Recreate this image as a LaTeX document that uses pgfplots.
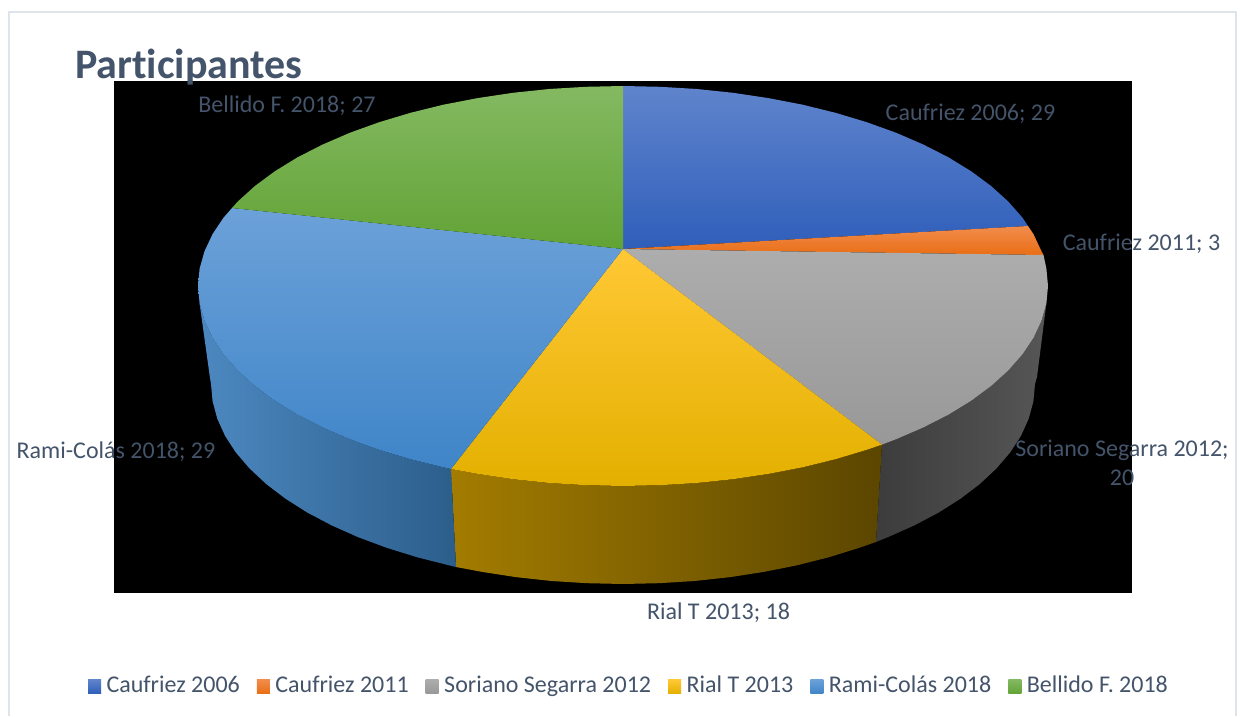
\documentclass[border=0pt]{standalone}
\usepackage{fontspec}
\usepackage{pgfplots}
\pgfplotsset{compat=1.18}
\setmainfont{Carlito}[Ligatures=NoCommon]

\definecolor{inkslate}{HTML}{44546A}
\definecolor{framegray}{HTML}{DFE4EA}

% One shared style per slice: top faces keep a soft vertical gradient
\pgfplotsset{
  face/.style n args={3}{draw=none,fill=none,shade,top color=#1,middle color=#2,bottom color=#3},
  wall/.style n args={3}{draw=none,fill=none,shade,left color=#1,middle color=#2,right color=#3},
}
\definecolor{bluetopA}{HTML}{5F84CC}\definecolor{bluetopB}{HTML}{3A67C0}\definecolor{bluetopC}{HTML}{2F5EBA}
\definecolor{orangeA}{HTML}{F28C4C}\definecolor{orangeB}{HTML}{F07D2E}\definecolor{orangeC}{HTML}{E96E15}
\definecolor{grayA}{HTML}{ADADAD}\definecolor{grayB}{HTML}{A3A3A3}\definecolor{grayC}{HTML}{989898}
\definecolor{yellowA}{HTML}{FFC835}\definecolor{yellowB}{HTML}{FAC300}\definecolor{yellowC}{HTML}{E3B000}
\definecolor{skyA}{HTML}{6CA1D9}\definecolor{skyB}{HTML}{5395D6}\definecolor{skyC}{HTML}{3F85C8}
\definecolor{greenA}{HTML}{84B962}\definecolor{greenB}{HTML}{6BAA40}\definecolor{greenC}{HTML}{62A335}
\definecolor{slateL}{HTML}{3C3C3C}\definecolor{slateM}{HTML}{414141}\definecolor{slateR}{HTML}{565656}
\definecolor{goldL}{HTML}{A37C00}\definecolor{goldM}{HTML}{7B6000}\definecolor{goldR}{HTML}{5B4600}
\definecolor{steelL}{HTML}{4C88C0}\definecolor{steelM}{HTML}{3B70A3}\definecolor{steelR}{HTML}{2C5E8B}

\begin{document}
\begin{tikzpicture}[
  lbl/.style={anchor=base,inner sep=0pt,text=inkslate,font=\fontsize{24}{28}\selectfont}]
\begin{axis}[
  scale only axis,width=1240pt,height=716pt,
  xmin=0,xmax=1240,ymin=0,ymax=716,y dir=reverse,
  hide axis,clip=false,
  legend columns=6,
  legend style={at={(axis cs:88,685)},anchor=west,draw=none,fill=none,inner sep=0pt,outer sep=0pt,
    font=\fontsize{24}{28}\selectfont,text=inkslate,
    nodes={inner sep=0pt,anchor=base west},
    /tikz/every even column/.append style={column sep=17pt},
    /tikz/every odd column/.append style={column sep=5.5pt}},
  legend cell align=left,
  legend image code/.code={\path[#1] (0pt,-1pt) rectangle (13pt,13pt);},
]
% White page, which also fixes the size of the picture
\path[fill=white] (axis cs:0,0) rectangle (axis cs:1240,716);

% Black plot area behind the pie
\addplot[draw=none,fill=black,forget plot] coordinates {(114,81) (1132,81) (1132,593) (114,593)};

% Side walls of the pie
\addplot[wall={slateL}{slateM}{slateR},forget plot] coordinates {
 (1046.4,303.4) (1041.5,320.7) (1033.5,337.8) (1022.4,354.4) (1008.2,370.5) (991.1,386) (971.2,400.7)
 (948.6,414.6) (923.5,427.4) (896.2,439.2) (882,444.6) (876,542) (887.8,537.2) (914.3,525.4) (938.6,512.6)
 (960.5,498.7) (979.8,484) (996.4,468.5) (1010.2,452.4) (1021,435.8) (1028.7,418.7) (1033.4,401.4) (1035,384) (1037,377)};
\addplot[wall={goldL}{goldM}{goldR},forget plot] coordinates {
 (882,444.6) (866.8,449.8) (835.5,459.2) (802.6,467.3) (768.4,473.9) (733,479.2) (696.8,483) (660.1,485.2) (623,486)
 (585.9,485.2) (549.2,483) (513,479.2) (477.6,473.9) (451,469) (456,567) (482.1,571.9) (516.4,577.2)
 (551.5,581) (587.1,583.2) (623,584) (658.9,583.2) (694.5,581) (729.6,577.2) (763.9,571.9) (797.1,565.3)
 (829,557.2) (859.3,547.8) (876,542)};
\addplot[wall={steelL}{steelM}{steelR},forget plot] coordinates {
 (451,469) (443.4,467.3) (410.5,459.2) (379.2,449.8) (349.8,439.2) (322.5,427.4) (297.4,414.6) (274.8,400.7)
 (254.9,386) (237.8,370.5) (223.6,354.4) (212.5,337.8) (204.5,320.7) (199.6,303.4) (210,378) (211,384)
 (212.6,401.4) (217.3,418.7) (225,435.8) (235.8,452.4) (249.6,468.5) (266.2,484) (285.5,498.7) (307.4,512.6)
 (331.7,525.4) (358.2,537.2) (386.7,547.8) (417,557.2) (448.9,565.3) (456,567)};

% Top faces, one per study
\addplot[face={bluetopA}{bluetopB}{bluetopC}] coordinates {
 (623,249) (623,86) (660.1,86.8) (696.8,89) (733,92.8) (768.4,98.1) (802.6,104.7) (835.5,112.8) (866.8,122.2)
 (896.2,132.8) (923.5,144.6) (948.6,157.4) (971.2,171.3) (991.1,186) (1008.2,201.5) (1022.4,217.6) (1028,226)};
\addlegendentry{Caufriez 2006}
\addplot[face={orangeA}{orangeB}{orangeC}] coordinates {
 (623,249) (1028,226) (1033.5,234.2) (1041.5,251.3) (1043.5,255)};
\addlegendentry{Caufriez 2011}
\addplot[face={grayA}{grayB}{grayC}] coordinates {
 (623,249) (1043.5,255) (1046.4,268.6) (1048,286) (1046.4,303.4) (1041.5,320.7) (1033.5,337.8) (1022.4,354.4)
 (1008.2,370.5) (991.1,386) (971.2,400.7) (948.6,414.6) (923.5,427.4) (896.2,439.2) (882,444.6)};
\addlegendentry{Soriano Segarra 2012}
\addplot[face={yellowA}{yellowB}{yellowC}] coordinates {
 (623,249) (882,444.6) (866.8,449.8) (835.5,459.2) (802.6,467.3) (768.4,473.9) (733,479.2) (696.8,483)
 (660.1,485.2) (623,486) (585.9,485.2) (549.2,483) (513,479.2) (477.6,473.9) (451,469)};
\addlegendentry{Rial T 2013}
\addplot[face={skyA}{skyB}{skyC}] coordinates {
 (623,249) (451,469) (443.4,467.3) (410.5,459.2) (379.2,449.8) (349.8,439.2) (322.5,427.4) (297.4,414.6)
 (274.8,400.7) (254.9,386) (237.8,370.5) (223.6,354.4) (212.5,337.8) (204.5,320.7) (199.6,303.4) (198,286)
 (199.6,268.6) (204.5,251.3) (212.5,234.2) (223.6,217.6) (232,208)};
\addlegendentry{Rami-Colás 2018}
\addplot[face={greenA}{greenB}{greenC}] coordinates {
 (623,249) (232,208) (237.8,201.5) (254.9,186) (274.8,171.3) (297.4,157.4) (322.5,144.6) (349.8,132.8)
 (379.2,122.2) (410.5,112.8) (443.4,104.7) (477.6,98.1) (513,92.8) (549.2,89) (585.9,86.8) (623,86)};
\addlegendentry{Bellido F. 2018}

% Outer frame, open at the bottom
\draw[framegray,line width=2pt] (axis cs:9,716) -- (axis cs:9,12) -- (axis cs:1236,12) -- (axis cs:1236,716);

% Title and data labels
\node[anchor=base west,inner sep=0pt,text=inkslate,font=\fontsize{42}{48}\selectfont\bfseries] at (axis cs:75,78) {Participantes};
\node[lbl] at (axis cs:287,113) {Bellido F. 2018; 27};
\node[lbl] at (axis cs:970.5,120) {Caufriez 2006; 29};
\node[lbl] at (axis cs:1141.5,250) {Caufriez 2011; 3};
\node[lbl] at (axis cs:1122,456) {Soriano Segarra 2012;};
\node[lbl] at (axis cs:1122,485) {20};
\node[lbl] at (axis cs:116,458) {Rami-Colás 2018; 29};
\node[lbl] at (axis cs:718.5,619) {Rial T 2013; 18};
\end{axis}
\end{tikzpicture}
\end{document}
